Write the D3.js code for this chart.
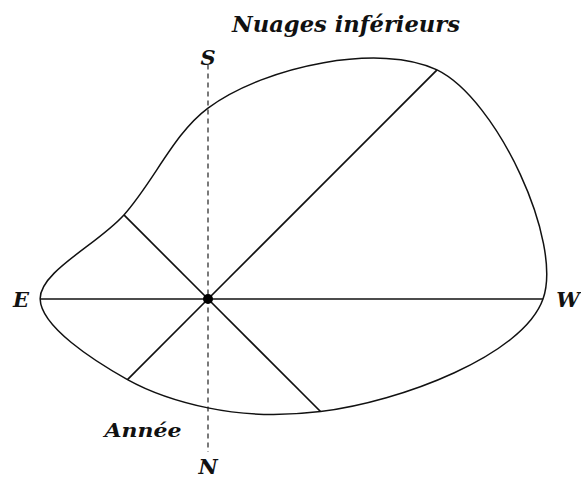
<!DOCTYPE html>
<html>
<head>
<meta charset="utf-8">
<script src="https://cdn.jsdelivr.net/npm/d3@7"></script>
<style>
  html, body { margin: 0; padding: 0; background: #fff; }
  svg { display: block; }
  .lbl { font-family: "DejaVu Serif", "Liberation Serif", serif; font-style: italic; font-weight: bold; fill: #111; }
</style>
</head>
<body>
<div id="chart"></div>
<script>
// directions, clockwise from S (top)
const directions = ["S", "SW", "W", "NW", "N", "NE", "E", "SE"];
const frequencies = [57, 96.7, 100, 47.5, 32.5, 34, 50.1, 35.5];
const title = "Nuages inférieurs";
const period = "Année";

function renderRose(selector) {
    const width = 581, height = 479;
    const cx = 208, cy = 299;

    const svg = d3.select(selector).append("svg")
        .attr("width", width)
        .attr("height", height);

    const g = svg.append("g").attr("transform", `translate(${cx}, ${cy})`);

    const r = d3.scaleLinear().domain([0, 100]).range([0, 335]);
    const angle = d3.scalePoint().domain(directions.concat(["_"])).range([0, 2 * Math.PI]);

    const pts = directions.map((d, i) => ({dir: d, value: frequencies[i], a: angle(d)}));
    const xy = d => [r(d.value) * Math.sin(d.a), -r(d.value) * Math.cos(d.a)];

    // dashed S-N axis
    g.append("line")
        .attr("x1", 0).attr("x2", 0)
        .attr("y1", -r(70)).attr("y2", r(45.7))
        .attr("stroke", "#222")
        .attr("stroke-width", 1.2)
        .attr("stroke-dasharray", "5,4");

    // spokes (except S and N)
    g.selectAll(".spoke")
        .data(pts.filter(d => d.dir !== "S" && d.dir !== "N"))
        .enter()
        .append("line")
        .attr("class", "spoke")
        .attr("x1", 0).attr("y1", 0)
        .attr("x2", d => xy(d)[0])
        .attr("y2", d => xy(d)[1])
        .attr("stroke", "#111")
        .attr("stroke-width", 1.7);

    const line = d3.lineRadial()
        .angle(d => d.a)
        .radius(d => r(d.value))
        .curve(d3.curveCatmullRomClosed.alpha(1));

    g.append("path")
        .datum(pts)
        .attr("d", line)
        .attr("fill", "none")
        .attr("stroke", "#111")
        .attr("stroke-width", 1.5);

    g.append("circle").attr("r", 5).attr("fill", "#000");

    // compass letters
    const labelPos = {
        S: [0, -r(72.1)], N: [0, r(49.9)],
        E: [-r(55.8), 0], W: [r(107.5), 0]
    };
    Object.entries(labelPos).forEach(([k, p]) => {
        g.append("text")
            .attr("class", "lbl")
            .attr("x", p[0]).attr("y", p[1])
            .attr("text-anchor", "middle")
            .attr("dominant-baseline", "central")
            .attr("font-size", 21)
            .text(k);
    });

    svg.append("text")
        .attr("class", "lbl")
        .attr("x", 346).attr("y", 32)
        .attr("text-anchor", "middle")
        .attr("font-size", 22)
        .attr("textLength", 228)
        .attr("lengthAdjust", "spacingAndGlyphs")
        .text(title);

    svg.append("text")
        .attr("class", "lbl")
        .attr("x", 143).attr("y", 437)
        .attr("text-anchor", "middle")
        .attr("font-size", 19)
        .attr("textLength", 77)
        .attr("lengthAdjust", "spacingAndGlyphs")
        .text(period);
}

renderRose("#chart");
</script>
</body>
</html>
